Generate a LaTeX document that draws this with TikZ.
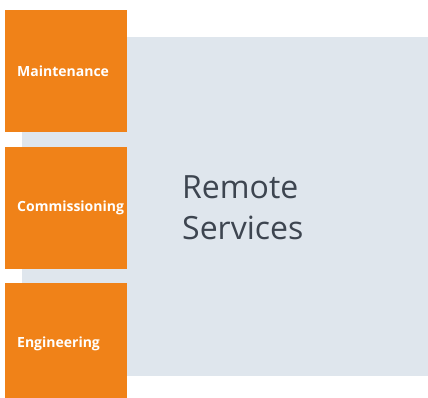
\documentclass[tikz,border=0pt]{standalone}
\usepackage{fontspec}
\setmainfont{Open Sans}
\definecolor{sieorange}{RGB}{240,130,24}
\definecolor{panelgray}{RGB}{223,230,237}
\definecolor{textslate}{RGB}{61,69,80}
\usetikzlibrary{positioning}

\begin{document}
\begin{tikzpicture}[x=1pt, y=-1pt,
  task/.style={fill=sieorange, text=white, text width=98pt, inner xsep=12pt,
    inner ysep=0pt, minimum height=122pt, align=left,
    font=\bfseries\fontsize{14}{16}\selectfont},
  title/.style={text=textslate, inner sep=0pt, align=left,
    font=\fontsize{32}{41}\selectfont}]
  % Frame
  \clip (0,0) rectangle (428,397);
  % Background panel
  \fill[panelgray] (22,37) rectangle (428,376);
  \node[title, anchor=base west] (remote) at (182,239) {Remote\\Services};
  % Service boxes
  \node[task, anchor=north west] (maint) at (5,10) {Maintenance};
  \node[task, below=14pt of maint] (commis) {Commissioning};
  \node[task, below=13.5pt of commis] (engin) {Engineering};
\end{tikzpicture}
\end{document}
